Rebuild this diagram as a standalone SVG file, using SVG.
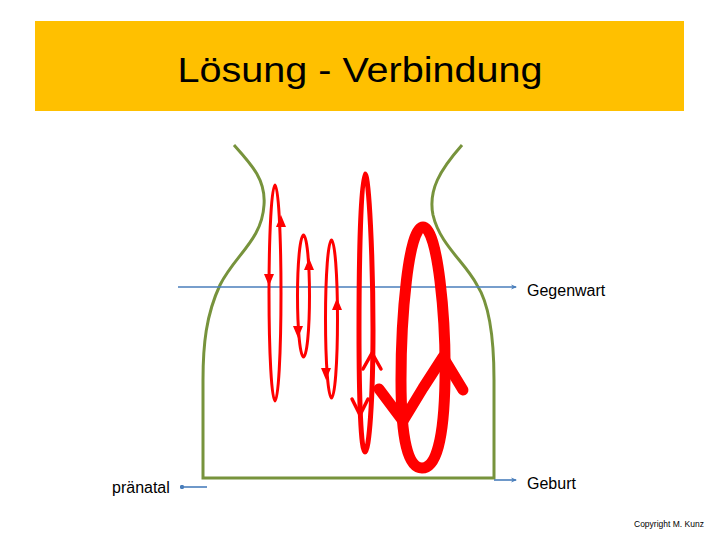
<svg xmlns="http://www.w3.org/2000/svg" width="720" height="540" viewBox="0 0 720 540">
<defs>
<style>
.lbl{font-family:"Liberation Sans",Arial,sans-serif;font-size:16px;fill:#000}
.blue{stroke:#4A7EBB;stroke-width:1.6;fill:none}
.red{stroke:#FF0000;fill:none;stroke-linecap:round;stroke-linejoin:round}
.tri{fill:#FF0000}
</style>
<marker id="arr" viewBox="0 0 10 10" refX="8" refY="5" markerWidth="4" markerHeight="4" orient="auto">
<path d="M0,1 L10,5 L0,9 L3,5 Z" fill="#4A7EBB"/>
</marker>
<marker id="dot" viewBox="0 0 10 10" refX="5" refY="5" markerWidth="3" markerHeight="3">
<circle cx="5" cy="5" r="4.5" fill="#4A7EBB"/>
</marker>
</defs>
<rect width="720" height="540" fill="#FFFFFF"/>
<g id="title">
<rect x="35" y="21" width="649" height="90" fill="#FFC000"/>
<text x="360" y="82" text-anchor="middle" font-family="'Liberation Sans',Arial,sans-serif" font-size="35" textLength="365" lengthAdjust="spacingAndGlyphs" fill="#000">Lösung - Verbindung</text>
</g>
<g id="vessel">
<path d="M234,145 C252,165 266,180 264,205 C262,240 235,255 220,285 C206,315 203,345 203,380 L203,478 L494,478 L494,380 C494,340 490,305 477,285 C465,262 440,245 433,215 C428,190 440,170 462,145" fill="none" stroke="#77933C" stroke-width="3"/>
</g>
<g id="connectors">
<line class="blue" x1="178" y1="287" x2="516" y2="287" marker-end="url(#arr)"/>
<line class="blue" x1="494" y1="480" x2="516" y2="480" marker-end="url(#arr)"/>
<line class="blue" x1="207" y1="487" x2="182" y2="487" marker-end="url(#dot)"/>
</g>
<g id="label-gegenwart"><text class="lbl" x="527" y="296">Gegenwart</text></g>
<g id="label-geburt"><text class="lbl" x="527" y="489">Geburt</text></g>
<g id="label-praenatal"><text class="lbl" x="112" y="493">pränatal</text></g>
<g id="loop1">
<ellipse class="red" cx="275" cy="293" rx="6" ry="108" stroke-width="3"/>
<path class="tri" d="M281,215 L276,227 L286,227 Z"/>
<path class="tri" d="M269,286 L264,274 L274,274 Z"/>
</g>
<g id="loop2">
<ellipse class="red" cx="303.5" cy="296" rx="6" ry="61" stroke-width="3"/>
<path class="tri" d="M309,258 L304,270 L314,270 Z"/>
<path class="tri" d="M298,338 L293,326 L303,326 Z"/>
</g>
<g id="loop3">
<ellipse class="red" cx="331.5" cy="319" rx="6" ry="79" stroke-width="3"/>
<path class="tri" d="M337,298 L332,310 L342,310 Z"/>
<path class="tri" d="M326,380 L321,368 L331,368 Z"/>
</g>
<g id="loop4">
<path class="red" d="M365,174 C369,174 373,260 373,330 C373,400 369,452 365,452 C361,452 359,400 359,330 C359,260 361,174 365,174 Z" stroke-width="5"/>
<polyline class="red" points="352,399 360,415 368,399" stroke-width="3.5"/>
<polyline class="red" points="363,369 372,353 381,369" stroke-width="3.5"/>
</g>
<g id="loop5">
<path class="red" d="M423,227 C438,227 446,320 445,380 C444,440 436,468 422,468 C408,468 401,440 401,380 C401,320 408,227 423,227 Z" stroke-width="11"/>
<polyline class="red" points="379,389 403,421 423,388 443,357 463,390" stroke-width="11"/>
</g>
<g id="copyright"><text x="634" y="527" font-family="'Liberation Sans',Arial,sans-serif" font-size="8.5" fill="#000">Copyright M. Kunz</text></g>
</svg>
